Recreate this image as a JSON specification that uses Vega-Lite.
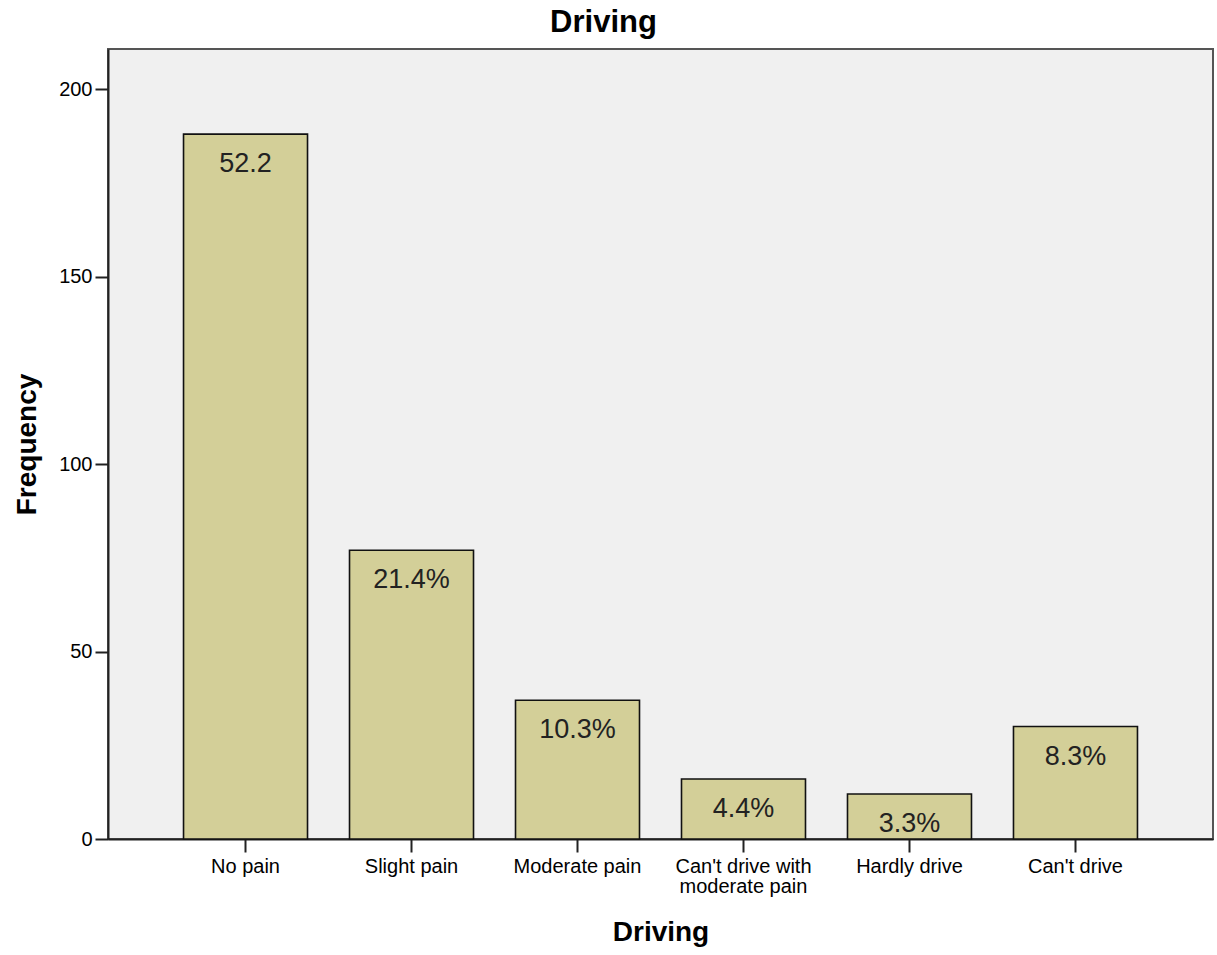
{
  "$schema": "https://vega.github.io/schema/vega-lite/v6.json",
  "width": 1105,
  "height": 790,
  "autosize": {"type": "none"},
  "padding": {"left": 108, "top": 49, "right": 4, "bottom": 116},
  "background": "white",
  "title": {
    "text": "Driving",
    "font": "Liberation Sans",
    "fontSize": 31,
    "fontWeight": "bold",
    "color": "#000000",
    "anchor": "middle",
    "dx": -57,
    "offset": 10
  },
  "data": {
    "values": [
      {"category": "No pain", "frequency": 188, "label": "52.2"},
      {"category": "Slight pain", "frequency": 77, "label": "21.4%"},
      {"category": "Moderate pain", "frequency": 37, "label": "10.3%"},
      {"category": "Can't drive with moderate pain", "frequency": 16, "label": "4.4%"},
      {"category": "Hardly drive", "frequency": 12, "label": "3.3%"},
      {"category": "Can't drive", "frequency": 30, "label": "8.3%"}
    ]
  },
  "encoding": {
    "x": {
      "field": "category",
      "type": "nominal",
      "sort": null,
      "scale": {"paddingInner": 0.253, "paddingOuter": 0.455},
      "axis": {
        "title": "Driving",
        "titleFont": "Liberation Sans",
        "titleFontSize": 28,
        "titleFontWeight": "bold",
        "titleColor": "#000000",
        "titlePadding": 22,
        "labelFont": "Liberation Sans",
        "labelFontSize": 20,
        "labelColor": "#000000",
        "labelAngle": 0,
        "labelPadding": 4,
        "labelLineHeight": 20,
        "labelExpr": "datum.label == \"Can't drive with moderate pain\" ? [\"Can't drive with\", \"moderate pain\"] : datum.label",
        "tickSize": 13,
        "tickWidth": 2,
        "tickColor": "#222222",
        "domainColor": "#222222",
        "domainWidth": 2
      }
    },
    "y": {
      "field": "frequency",
      "type": "quantitative",
      "scale": {"domain": [0, 210.7], "nice": false, "zero": true},
      "axis": {
        "title": "Frequency",
        "titleFont": "Liberation Sans",
        "titleFontSize": 28,
        "titleFontWeight": "bold",
        "titleColor": "#000000",
        "titlePadding": 17,
        "values": [0, 50, 100, 150, 200],
        "labelFont": "Liberation Sans",
        "labelFontSize": 20,
        "labelColor": "#000000",
        "labelPadding": 3,
        "tickSize": 13,
        "tickWidth": 2,
        "tickColor": "#222222",
        "domainColor": "#222222",
        "domainWidth": 2,
        "grid": false
      }
    }
  },
  "layer": [
    {
      "mark": {
        "type": "bar",
        "fill": "#d3cf98",
        "stroke": "#111111",
        "strokeWidth": 1.6
      }
    },
    {
      "mark": {
        "type": "text",
        "baseline": "top",
        "align": "center",
        "dy": 17,
        "font": "Liberation Sans",
        "fontSize": 27,
        "color": "#222222"
      },
      "encoding": {"text": {"field": "label"}}
    }
  ],
  "config": {
    "view": {"fill": "#f0f0f0", "stroke": "#555555", "strokeWidth": 2}
  }
}
